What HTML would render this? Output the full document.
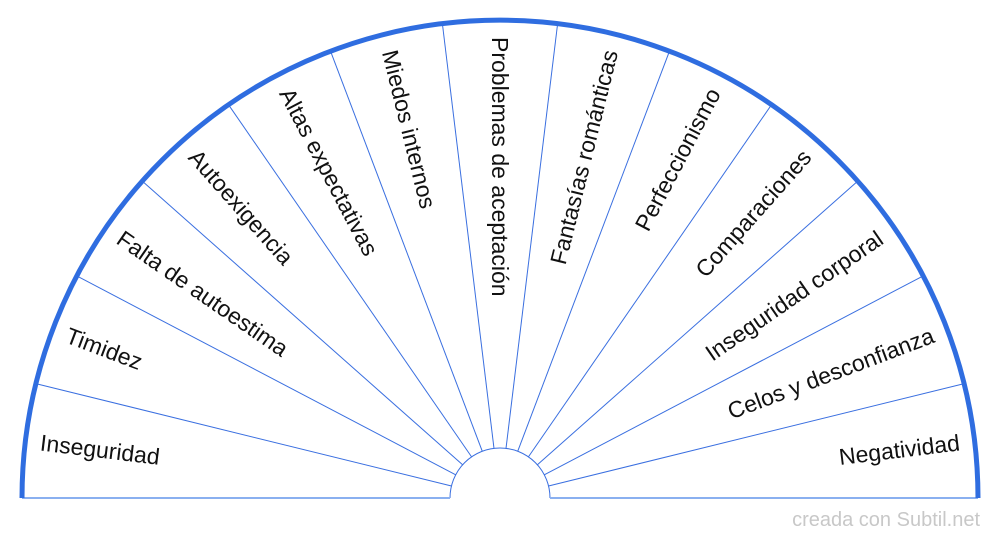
<!DOCTYPE html>
<html><head><meta charset="utf-8"><style>
html,body{margin:0;padding:0;background:#fff;}
svg{display:block;}
text{font-family:"Liberation Sans",Arial,sans-serif;font-size:23px;fill:#111;}
</style></head><body>
<svg width="1000" height="540" viewBox="0 0 1000 540">
<g stroke="#3a6fe0" stroke-width="1" fill="none">
<line x1="548.5" y1="486.0" x2="962.2" y2="384.1"/>
<line x1="544.3" y1="474.8" x2="921.5" y2="276.8"/>
<line x1="537.4" y1="464.8" x2="856.3" y2="182.4"/>
<line x1="528.4" y1="456.9" x2="770.4" y2="106.3"/>
<line x1="517.7" y1="451.3" x2="668.8" y2="52.9"/>
<line x1="506.0" y1="448.4" x2="557.4" y2="25.5"/>
<line x1="494.0" y1="448.4" x2="442.6" y2="25.5"/>
<line x1="482.3" y1="451.3" x2="331.2" y2="52.9"/>
<line x1="471.6" y1="456.9" x2="229.6" y2="106.3"/>
<line x1="462.6" y1="464.8" x2="143.7" y2="182.4"/>
<line x1="455.7" y1="474.8" x2="78.5" y2="276.8"/>
<line x1="451.5" y1="486.0" x2="37.8" y2="384.1"/>
<path d="M450 498 A50 50 0 0 1 550 498"/>
</g>
<g stroke="#8ab0f0" stroke-width="2">
<line x1="22" y1="498" x2="450" y2="498"/>
<line x1="550" y1="498" x2="978" y2="498"/>
</g>
<path d="M22 498 A478 478 0 0 1 978 498" stroke="#2f6de0" stroke-width="5" fill="none"/>
<g dominant-baseline="central">
<text transform="translate(40.4,442.4) rotate(6.92)">Inseguridad</text>
<text transform="translate(67.0,334.5) rotate(20.77)">Timidez</text>
<text transform="translate(119.6,236.1) rotate(34.62)">Falta de autoestima</text>
<text transform="translate(193.3,153.0) rotate(48.46)">Autoexigencia</text>
<text transform="translate(285.8,89.8) rotate(62.31)">Altas expectativas</text>
<text transform="translate(389.7,50.4) rotate(76.15)">Miedos internos</text>
<text transform="translate(500,37) rotate(90)">Problemas de aceptación</text>
<text text-anchor="end" transform="translate(610.3,50.4) rotate(-76.15)">Fantasías románticas</text>
<text text-anchor="end" transform="translate(714.2,89.8) rotate(-62.31)">Perfeccionismo</text>
<text text-anchor="end" transform="translate(806.7,153.0) rotate(-48.46)">Comparaciones</text>
<text text-anchor="end" transform="translate(880.4,236.1) rotate(-34.62)">Inseguridad corporal</text>
<text text-anchor="end" transform="translate(933.0,334.5) rotate(-20.77)">Celos y desconfianza</text>
<text text-anchor="end" transform="translate(959.6,442.4) rotate(-6.92)">Negatividad</text>
</g>
<text x="980" y="526" text-anchor="end" style="font-size:20px;fill:#c8c8c8">creada con Subtil.net</text>
</svg>
</body></html>
